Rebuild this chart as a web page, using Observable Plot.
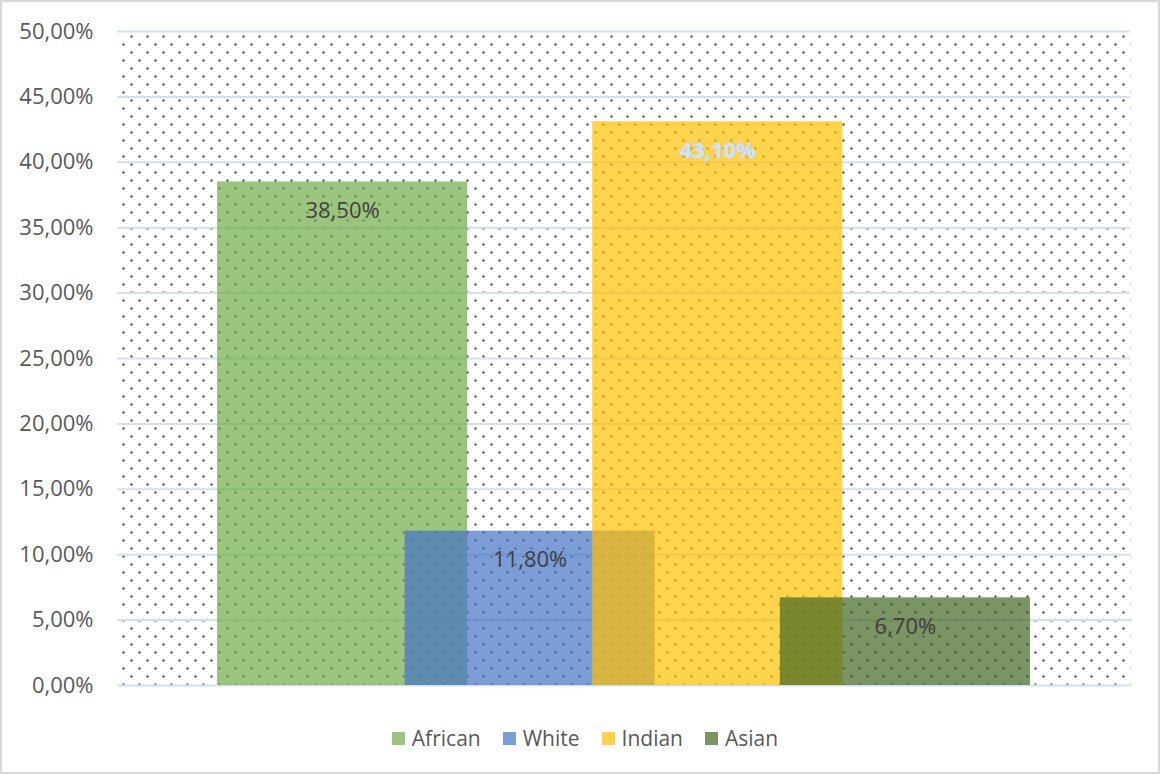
<!DOCTYPE html>
<html>
<head>
<meta charset="utf-8">
<script src="https://cdn.jsdelivr.net/npm/d3@7"></script>
<script src="https://cdn.jsdelivr.net/npm/@observablehq/plot@0.6"></script>
<style>
  html, body { margin: 0; padding: 0; background: #fff; }
  #chart {
    position: relative; width: 1160px; height: 774px; box-sizing: border-box;
    border: 2px solid #d9d9d9; background: #fff; overflow: hidden;
    font-family: "Open Sans", sans-serif;
  }
  #chart svg { position: absolute; left: 0; top: 0; }
  #legend {
    position: absolute; left: 10px; right: 0; top: 721px;
    display: flex; justify-content: center; gap: 22px;
    font-size: 21px; color: #595959; line-height: 30px;
  }
  #legend .item { display: flex; align-items: center; gap: 7px; }
  #legend .sw { width: 13px; height: 13px; display: inline-block; }
</style>
</head>
<body>
<div id="chart"><div id="legend"></div></div>
<script>
const categories = ["African", "White", "Indian", "Asian"];
const values = [38.5, 11.8, 43.1, 6.7];
const colors = ["#70AD47", "#4472C4", "#FFC000", "#416622"];
const yTicks = [0, 5, 10, 15, 20, 25, 30, 35, 40, 45, 50];

const barWidth = 4 / 3;   // bar width in units of category step (overlapping bars)
const locale = d3.formatLocale({decimal: ",", thousands: ".", grouping: [3], currency: ["", "€"]});
const fmt = locale.format(".2f");

const data = categories.map((c, i) => ({category: c, value: values[i], start: i, end: i + barWidth}));

const svg = Plot.plot({
  width: 1156,
  height: 705,
  marginLeft: 115,
  marginRight: 28,
  marginTop: 29,
  marginBottom: 22,
  style: {fontFamily: "'Open Sans', sans-serif", fontSize: "22px", color: "#595959", background: "transparent"},
  x: {type: "linear", domain: [-100 / 187.5, 3 + 350 / 187.5], axis: null},
  y: {domain: [0, 50], axis: null},
  color: {domain: categories, range: colors},
  marks: [
    Plot.frame({fill: "url(#dots)", stroke: null}),
    Plot.ruleY(yTicks, {stroke: "#d3e0f0", strokeWidth: 2}),
    Plot.rect(data, {x1: "start", x2: "end", y1: 0, y2: "value", fill: "category", fillOpacity: 0.7}),
    Plot.axisY(yTicks, {tickSize: 0, tickPadding: 24, tickFormat: d => fmt(d) + "%", fill: "#595959", fontSize: 22, label: null}),
    Plot.text(data.filter(d => d.category !== "Indian"), {
      x: d => d.start + barWidth / 2, y: "value", dy: 29,
      text: d => fmt(d.value) + "%", fill: "#404040", fontSize: 22
    }),
    Plot.text(data.filter(d => d.category === "Indian"), {
      x: d => d.start + barWidth / 2, y: "value", dy: 29,
      text: d => fmt(d.value) + "%", fill: "#d4e3f2", stroke: "#bccfe3", strokeWidth: 1,
      fontSize: 22, fontWeight: 700
    })
  ]
});

const defs = d3.select(svg).insert("defs", ":first-child");
const pat = defs.append("pattern").attr("id", "dots")
  .attr("patternUnits", "userSpaceOnUse").attr("width", 16).attr("height", 16);
pat.append("rect").attr("x", 0).attr("y", 1).attr("width", 2).attr("height", 2).attr("fill", "#333333").attr("shape-rendering", "crispEdges");
pat.append("rect").attr("x", 8).attr("y", 9).attr("width", 2).attr("height", 2).attr("fill", "#333333").attr("shape-rendering", "crispEdges");

document.getElementById("chart").prepend(svg);

const legend = d3.select("#legend");
categories.forEach((c, i) => {
  const item = legend.append("div").attr("class", "item");
  item.append("span").attr("class", "sw").style("background", d3.color(colors[i]).copy({opacity: 0.7}).toString());
  item.append("span").text(c);
});
</script>
</body>
</html>
